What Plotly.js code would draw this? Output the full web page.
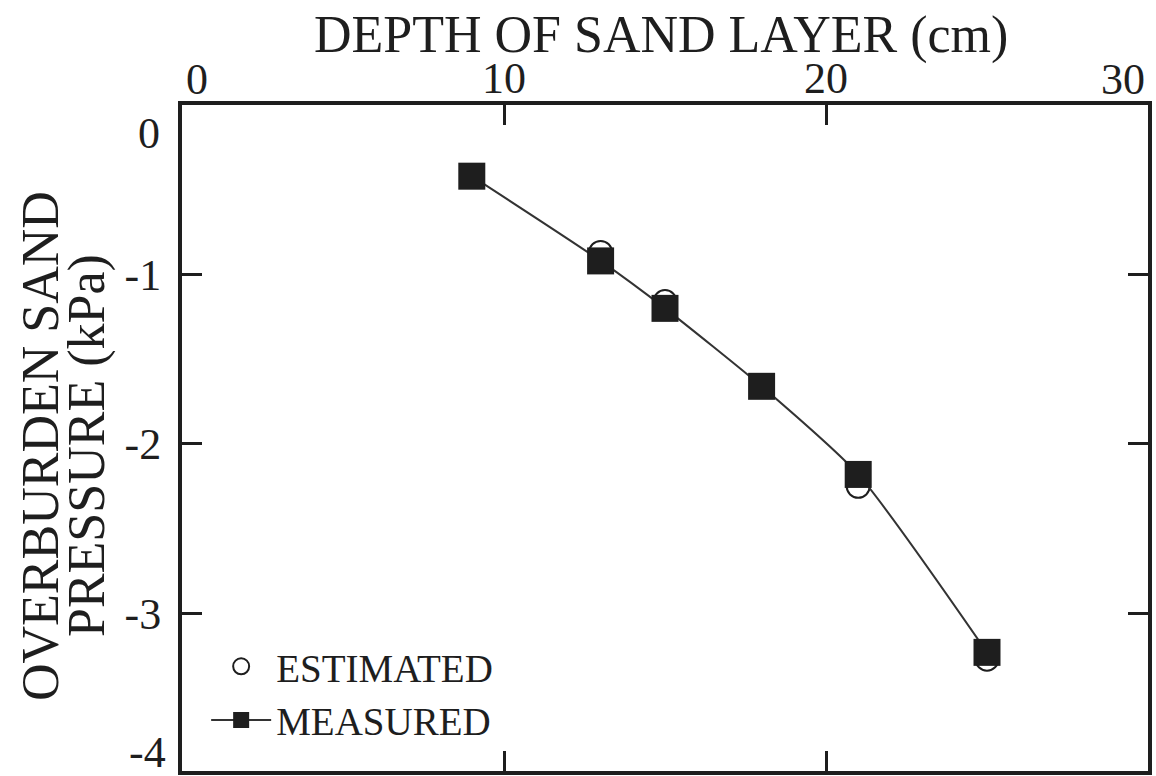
<!DOCTYPE html>
<html>
<head>
<meta charset="utf-8">
<script src="https://cdn.plot.ly/plotly-3.0.1.min.js"></script>
<style>
html,body{margin:0;padding:0;overflow:hidden;background:#fff;}
#chart{width:1156px;height:776px;}
</style>
</head>
<body>
<div id="chart"></div>
<script>
const depth = [9, 13, 15, 18, 21, 25];
const estimated = [-0.42, -0.87, -1.16, -1.66, -2.25, -3.27];
const measured = [-0.42, -0.92, -1.20, -1.66, -2.18, -3.23];
const xTicks = [0, 10, 20, 30];
const xTickLabels = ["0", "10", "20", "30"];
const yTicks = [0, -1, -2, -3, -4];
const yTickLabels = ["0", "-1", "-2", "-3", "-4"];
const xTitle = "DEPTH OF SAND LAYER (cm)";
const yTitleLines = ["OVERBURDEN SAND", "PRESSURE (kPa)"];

const serif = "Liberation Serif, Times New Roman, serif";
const ink = "#1e1e1e";
const tickFont = {family: serif, size: 44, color: ink};
const titleFont = {family: serif, size: 52, color: ink};

const traces = [
  {
    x: depth, y: estimated, name: "ESTIMATED", type: "scatter", mode: "markers",
    marker: {symbol: "circle", size: 23, color: "#ffffff", line: {color: ink, width: 2}}
  },
  {
    x: depth, y: measured, name: "MEASURED", type: "scatter", mode: "lines+markers",
    line: {color: "#333333", width: 2, shape: "spline", smoothing: 0.6},
    marker: {symbol: "square", size: 27, color: ink, line: {color: ink, width: 0}}
  }
];

// interior tick labels drawn by the axes; the end labels are nudged inward as in the original
const xInnerText = xTickLabels.map((t, i) => (i === 0 || i === xTickLabels.length - 1) ? "" : t);
const yInnerText = yTickLabels.map((t, i) => (i === 0 || i === yTickLabels.length - 1) ? "" : t);

const annotations = [
  {xref: "paper", yref: "paper", x: 0.5, y: 1, text: xTitle, showarrow: false,
   xanchor: "center", yanchor: "middle", xshift: -4, yshift: 70, font: titleFont},
  {xref: "x", yref: "paper", x: xTicks[0], y: 1, text: xTickLabels[0], showarrow: false,
   xanchor: "center", yanchor: "middle", xshift: 15, yshift: 26, font: tickFont},
  {xref: "x", yref: "paper", x: xTicks[3], y: 1, text: xTickLabels[3], showarrow: false,
   xanchor: "center", yanchor: "middle", xshift: -25, yshift: 26, font: tickFont},
  {xref: "paper", yref: "y", x: 0, y: yTicks[0], text: yTickLabels[0], showarrow: false,
   xanchor: "right", yanchor: "middle", xshift: -20, yshift: -28, font: tickFont},
  {xref: "paper", yref: "paper", x: 0, y: 0, text: yTickLabels[4], showarrow: false,
   xanchor: "right", yanchor: "middle", xshift: -14, yshift: 19, font: tickFont},
  {xref: "paper", yref: "paper", x: 0, y: 0.5, text: yTitleLines[0], showarrow: false,
   textangle: -90, xanchor: "center", yanchor: "middle", xshift: -142, yshift: -8, font: titleFont},
  {xref: "paper", yref: "paper", x: 0, y: 0.5, text: yTitleLines[1], showarrow: false,
   textangle: -90, xanchor: "center", yanchor: "middle", xshift: -95, yshift: -8, font: titleFont}
];

const layout = {
  width: 1156, height: 776,
  margin: {l: 182, r: 8, t: 105, b: 5},
  paper_bgcolor: "#fff", plot_bgcolor: "#fff",
  font: {family: serif, color: ink},
  showlegend: true,
  legend: {
    x: 0.025, y: 0.205, xanchor: "left", yanchor: "top",
    bgcolor: "rgba(0,0,0,0)", font: {family: serif, size: 39, color: ink},
    itemwidth: 60, tracegroupgap: 0
  },
  annotations: annotations,
  xaxis: {
    side: "top", range: [0, 30], tickvals: xTicks, ticktext: xInnerText,
    ticks: "inside", ticklen: 20, tickwidth: 3, tickcolor: ink,
    showline: true, linewidth: 4, linecolor: ink, mirror: "allticks",
    showgrid: false, zeroline: false, ticklabelstandoff: -10,
    tickfont: tickFont
  },
  yaxis: {
    range: [-3.93, 0], tickvals: yTicks, ticktext: yInnerText,
    ticks: "inside", ticklen: 20, tickwidth: 3, tickcolor: ink,
    showline: true, linewidth: 4, linecolor: ink, mirror: "allticks",
    showgrid: false, zeroline: false, ticklabelstandoff: 8,
    tickfont: tickFont
  }
};

Plotly.newPlot("chart", traces, layout, {displayModeBar: false, staticPlot: true});
</script>
</body>
</html>
